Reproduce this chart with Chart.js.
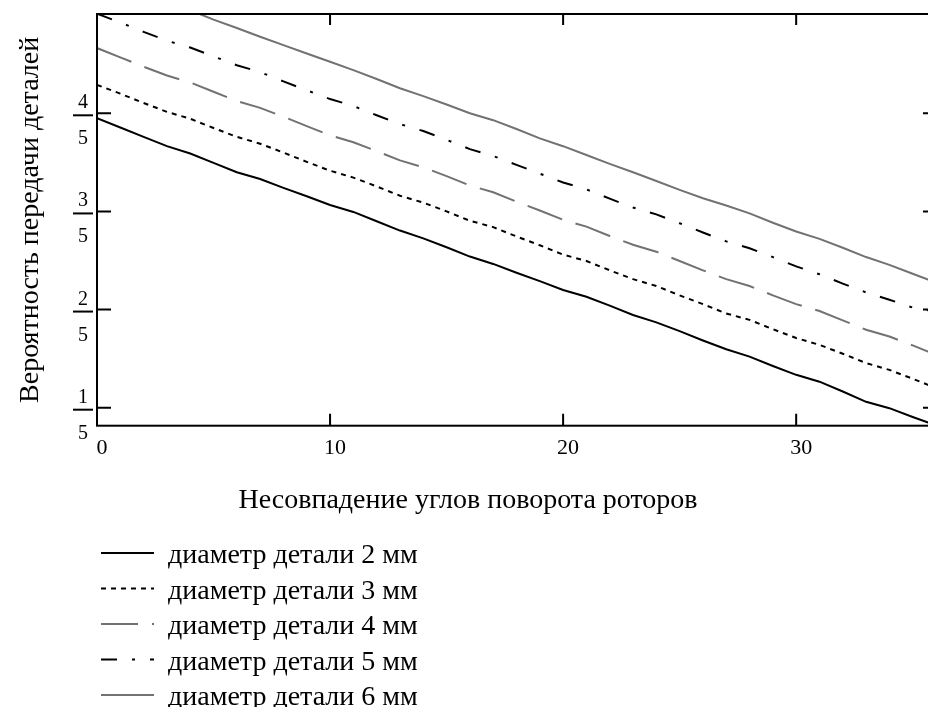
<!DOCTYPE html>
<html>
<head>
<meta charset="utf-8">
<script src="https://cdn.jsdelivr.net/npm/chart.js@4.4.1/dist/chart.umd.min.js"></script>
<style>
    html, body { margin: 0; padding: 0; background: #fff; overflow: hidden; }
    #wrap { width: 928px; height: 707px; overflow: hidden; }
    canvas { display: block; }
</style>
</head>
<body>
<div id="wrap"><canvas id="chart" width="940" height="707"></canvas></div>
<script>
// misalignment angle of the rotors
const angles = [0, 1, 2, 3, 4, 5, 6, 7, 8, 9, 10, 11, 12, 13, 14, 15, 16, 17, 18,
    19, 20, 21, 22, 23, 24, 25, 26, 27, 28, 29, 30, 31, 32, 33, 34, 35, 36];

const d2mm = [0.790, 0.771, 0.752, 0.733, 0.718, 0.699, 0.680, 0.666, 0.648, 0.631,
    0.613, 0.599, 0.580, 0.561, 0.545, 0.527, 0.508, 0.493, 0.475, 0.458, 0.440,
    0.426, 0.408, 0.389, 0.374, 0.356, 0.337, 0.319, 0.304, 0.285, 0.267, 0.253,
    0.233, 0.212, 0.199, 0.181, 0.164];
const d3mm = [0.858, 0.840, 0.821, 0.803, 0.789, 0.770, 0.752, 0.738, 0.720, 0.701,
    0.683, 0.669, 0.651, 0.632, 0.618, 0.600, 0.581, 0.568, 0.549, 0.531, 0.512,
    0.499, 0.480, 0.462, 0.448, 0.429, 0.411, 0.392, 0.379, 0.360, 0.342, 0.328,
    0.310, 0.291, 0.277, 0.259, 0.240];
const d4mm = [0.933, 0.914, 0.895, 0.877, 0.863, 0.844, 0.825, 0.811, 0.793, 0.774,
    0.755, 0.741, 0.723, 0.704, 0.690, 0.672, 0.653, 0.639, 0.620, 0.602, 0.583,
    0.569, 0.550, 0.532, 0.518, 0.499, 0.480, 0.462, 0.448, 0.429, 0.411, 0.397,
    0.378, 0.359, 0.345, 0.327, 0.308];
const d5mm = [1.003, 0.985, 0.966, 0.948, 0.934, 0.916, 0.898, 0.884, 0.865, 0.847,
    0.829, 0.815, 0.796, 0.778, 0.764, 0.746, 0.727, 0.713, 0.695, 0.677, 0.659,
    0.645, 0.626, 0.608, 0.594, 0.576, 0.557, 0.539, 0.525, 0.507, 0.488, 0.472,
    0.453, 0.435, 0.420, 0.404, 0.396];
const d6mm = [1.080, 1.062, 1.043, 1.027, 1.010, 0.991, 0.974, 0.956, 0.939, 0.922,
    0.905, 0.888, 0.870, 0.851, 0.835, 0.818, 0.800, 0.786, 0.768, 0.749, 0.733,
    0.715, 0.697, 0.680, 0.662, 0.644, 0.627, 0.612, 0.596, 0.577, 0.559, 0.544,
    0.526, 0.507, 0.491, 0.473, 0.455];

const seriesNames = [
    "диаметр детали 2 мм",
    "диаметр детали 3 мм",
    "диаметр детали 4 мм",
    "диаметр детали 5 мм",
    "диаметр детали 6 мм",
];

const xTicks = [0, 10, 20, 30];
const yTicks = [0.2, 0.4, 0.6, 0.8];
const yTickNum = ["1", "2", "3", "4"];
const yTickDen = ["5", "5", "5", "5"];

const SERIF = '"Liberation Serif", "Times New Roman", serif';
const GREY = "#727272";

const toPoints = (values) => values.map((v, i) => ({ x: angles[i], y: v }));

const styles = [
    { borderColor: "#000", borderWidth: 2, borderDash: [] },
    { borderColor: "#000", borderWidth: 2, borderDash: [5, 5] },
    { borderColor: GREY, borderWidth: 2, borderDash: [37, 14] },
    { borderColor: "#000", borderWidth: 2, borderDash: [16, 15, 3, 15] },
    { borderColor: GREY, borderWidth: 2, borderDash: [] },
];

const datasets = [d2mm, d3mm, d4mm, d5mm, d6mm].map((values, i) => ({
    label: seriesNames[i],
    data: toPoints(values),
    ...styles[i],
    pointRadius: 0,
    tension: 0,
    fill: false,
}));

// frame, inward ticks and the fraction labels of the y axis
const framePlugin = {
    id: "frame",
    afterDatasetsDraw(chart) {
        const { ctx, chartArea: a, scales: { x, y } } = chart;
        ctx.save();
        ctx.strokeStyle = "#000";
        ctx.lineWidth = 2;
        ctx.strokeRect(a.left, a.top, a.right - a.left, a.bottom - a.top);
        ctx.beginPath();
        for (const v of xTicks) {
            const px = x.getPixelForValue(v);
            ctx.moveTo(px, a.bottom);
            ctx.lineTo(px, a.bottom - 12);
            ctx.moveTo(px, a.top);
            ctx.lineTo(px, a.top + 11);
        }
        for (const v of yTicks) {
            const py = y.getPixelForValue(v);
            ctx.moveTo(a.left, py);
            ctx.lineTo(a.left + 14, py);
            ctx.moveTo(a.right, py);
            ctx.lineTo(a.right - 13, py);
        }
        ctx.stroke();

        ctx.font = "20px " + SERIF;
        ctx.fillStyle = "#000";
        ctx.textAlign = "center";
        ctx.textBaseline = "alphabetic";
        yTicks.forEach((v, i) => {
            const py = y.getPixelForValue(v);
            const cx = a.left - 14;
            ctx.fillText(yTickNum[i], cx, py - 5);
            ctx.fillText(yTickDen[i], cx, py + 31);
            ctx.beginPath();
            ctx.moveTo(a.left - 24, py + 2);
            ctx.lineTo(a.left - 4, py + 2);
            ctx.stroke();
        });
        ctx.restore();
    },
};

// vertical legend under the x axis title
const legendPlugin = {
    id: "legendRows",
    afterDraw(chart) {
        const { ctx } = chart;
        ctx.save();
        ctx.font = "28px " + SERIF;
        ctx.textAlign = "left";
        ctx.textBaseline = "alphabetic";
        chart.data.datasets.forEach((ds, i) => {
            const base = 563 + i * 35.5;
            ctx.strokeStyle = ds.borderColor;
            ctx.lineWidth = ds.borderWidth;
            ctx.setLineDash(ds.borderDash || []);
            ctx.beginPath();
            ctx.moveTo(101, base - 10);
            ctx.lineTo(154, base - 10);
            ctx.stroke();
            ctx.setLineDash([]);
            ctx.fillStyle = "#000";
            ctx.fillText(ds.label, 168, base);
        });
        ctx.restore();
    },
};

new Chart(document.getElementById("chart"), {
    type: "line",
    data: { datasets },
    plugins: [framePlugin, legendPlugin],
    options: {
        responsive: false,
        animation: false,
        devicePixelRatio: 1,
        layout: { padding: { top: 14, right: 4, bottom: 189.7, left: 0 } },
        plugins: {
            legend: { display: false },
            tooltip: { enabled: false },
            title: {
                display: true,
                position: "bottom",
                text: "Несовпадение углов поворота роторов",
                color: "#000",
                font: { family: SERIF, size: 28, weight: "normal", lineHeight: 1.2 },
                padding: { top: 18, bottom: 0 },
            },
        },
        scales: {
            x: {
                type: "linear",
                min: 0,
                max: 36,
                afterBuildTicks: (s) => { s.ticks = xTicks.map((v) => ({ value: v })); },
                afterFit: (s) => { s.height = 40; },
                grid: { display: false },
                border: { display: false },
                ticks: {
                    color: "#000",
                    font: { family: SERIF, size: 22 },
                    padding: 1,
                    labelOffset: 5,
                    maxRotation: 0,
                },
            },
            y: {
                type: "linear",
                min: 0.1633,
                max: 1.0024,
                afterBuildTicks: (s) => { s.ticks = yTicks.map((v) => ({ value: v })); },
                afterFit: (s) => { s.width = 97; },
                grid: { display: false },
                border: { display: false },
                ticks: { display: false },
                title: {
                    display: true,
                    text: "Вероятность передачи деталей",
                    color: "#000",
                    font: { family: SERIF, size: 28, lineHeight: 1.2 },
                    padding: { top: 13.6, bottom: 0 },
                },
            },
        },
    },
});
</script>
</body>
</html>
